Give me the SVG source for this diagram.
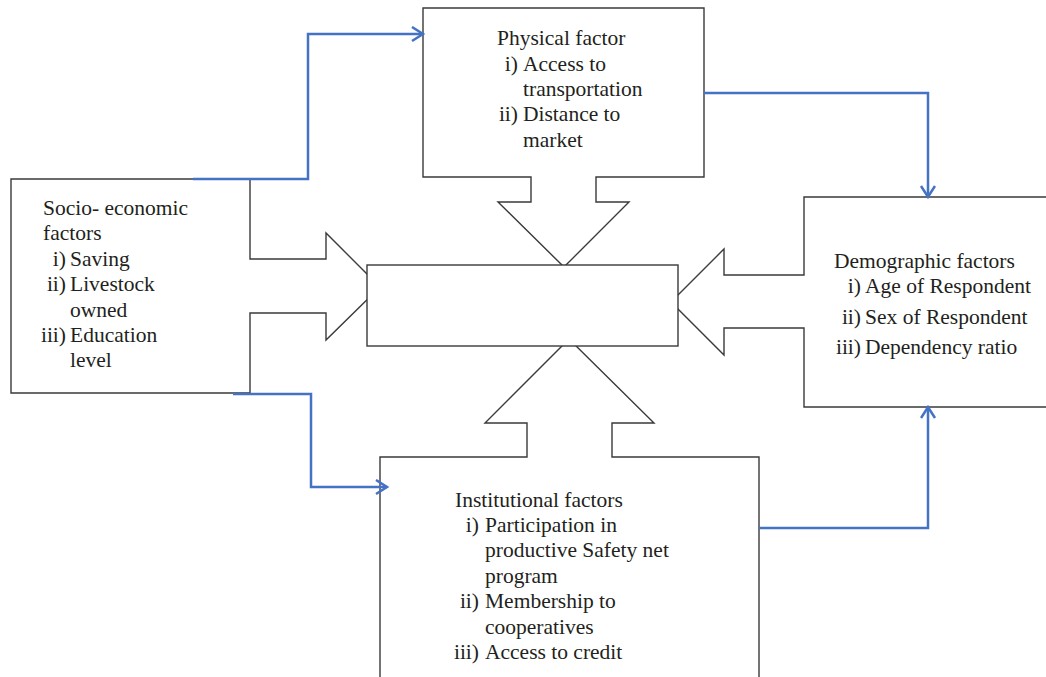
<svg xmlns="http://www.w3.org/2000/svg" width="1046" height="677" viewBox="0 0 1046 677">
<style>
.shape{fill:#fff;stroke:#3a3a3a;stroke-width:1.4;stroke-linejoin:miter}
.lbl{font-family:"Liberation Serif","Times New Roman",serif;font-size:21.5px;fill:#231f20}
.num{text-anchor:end}
.conn{fill:none;stroke:#4472C4;stroke-width:2.5;stroke-linejoin:miter}
</style>
<defs>
<marker id="ah" markerUnits="userSpaceOnUse" markerWidth="18" markerHeight="18" refX="14" refY="8" orient="auto">
<path d="M3,1 L14,8 L3,15" fill="none" stroke="#4472C4" stroke-width="2.5"/>
</marker>
</defs>
<rect width="1046" height="677" fill="#fff"/>
<g id="physical">
<path class="shape" d="M423,8 L704,8 L704,177 L596,177 L596,202 L629,202 L564,267 L498,202 L531,202 L531,177 L423,177 Z"/>
<text class="lbl" x="497" y="45">Physical factor</text>
<text class="lbl num" x="518" y="71">i)</text><text class="lbl" x="523" y="71">Access to</text>
<text class="lbl" x="523" y="96">transportation</text>
<text class="lbl num" x="518" y="121">ii)</text><text class="lbl" x="523" y="121">Distance to</text>
<text class="lbl" x="523" y="147">market</text>
</g>
<g id="socio">
<path class="shape" d="M11,179 L250,179 L250,259 L326,259 L326,233 L380,287 L326,340 L326,313 L250,313 L250,393 L11,393 Z"/>
<text class="lbl" x="43" y="215">Socio- economic</text>
<text class="lbl" x="43" y="240">factors</text>
<text class="lbl num" x="66" y="266">i)</text><text class="lbl" x="70" y="266">Saving</text>
<text class="lbl num" x="66" y="291">ii)</text><text class="lbl" x="70" y="291">Livestock</text>
<text class="lbl" x="70" y="317">owned</text>
<text class="lbl num" x="66" y="342">iii)</text><text class="lbl" x="70" y="342">Education</text>
<text class="lbl" x="70" y="367">level</text>
</g>
<g id="demographic">
<path class="shape" d="M804,197 L1050,197 L1050,407 L804,407 L804,328 L724,328 L724,355 L671,302 L724,249 L724,275 L804,275 Z"/>
<text class="lbl" x="834" y="268">Demographic factors</text>
<text class="lbl num" x="861" y="293">i)</text><text class="lbl" x="865" y="293">Age of Respondent</text>
<text class="lbl num" x="861" y="324">ii)</text><text class="lbl" x="865" y="324">Sex of Respondent</text>
<text class="lbl num" x="861" y="354">iii)</text><text class="lbl" x="865" y="354">Dependency ratio</text>
</g>
<g id="institutional">
<path class="shape" d="M380,457 L527,457 L527,423 L485,423 L569,339 L654,423 L612,423 L612,457 L759,457 L759,690 L380,690 Z"/>
<text class="lbl" x="455" y="507">Institutional factors</text>
<text class="lbl num" x="479" y="532">i)</text><text class="lbl" x="485" y="532">Participation in</text>
<text class="lbl" x="485" y="557">productive Safety net</text>
<text class="lbl" x="485" y="583">program</text>
<text class="lbl num" x="479" y="608">ii)</text><text class="lbl" x="485" y="608">Membership to</text>
<text class="lbl" x="485" y="634">cooperatives</text>
<text class="lbl num" x="479" y="659">iii)</text><text class="lbl" x="485" y="659">Access to credit</text>
</g>
<g id="center">
<rect class="shape" x="367" y="265" width="311" height="81"/>
</g>
<g id="connectors">
<path class="conn" d="M193,179 L308,179 L308,34 L423,34" marker-end="url(#ah)"/>
<path class="conn" d="M704,93 L928,93 L928,197" marker-end="url(#ah)"/>
<path class="conn" d="M233,394 L311,394 L311,487 L387,487" marker-end="url(#ah)"/>
<path class="conn" d="M759,528 L928,528 L928,407" marker-end="url(#ah)"/>
</g>
</svg>
